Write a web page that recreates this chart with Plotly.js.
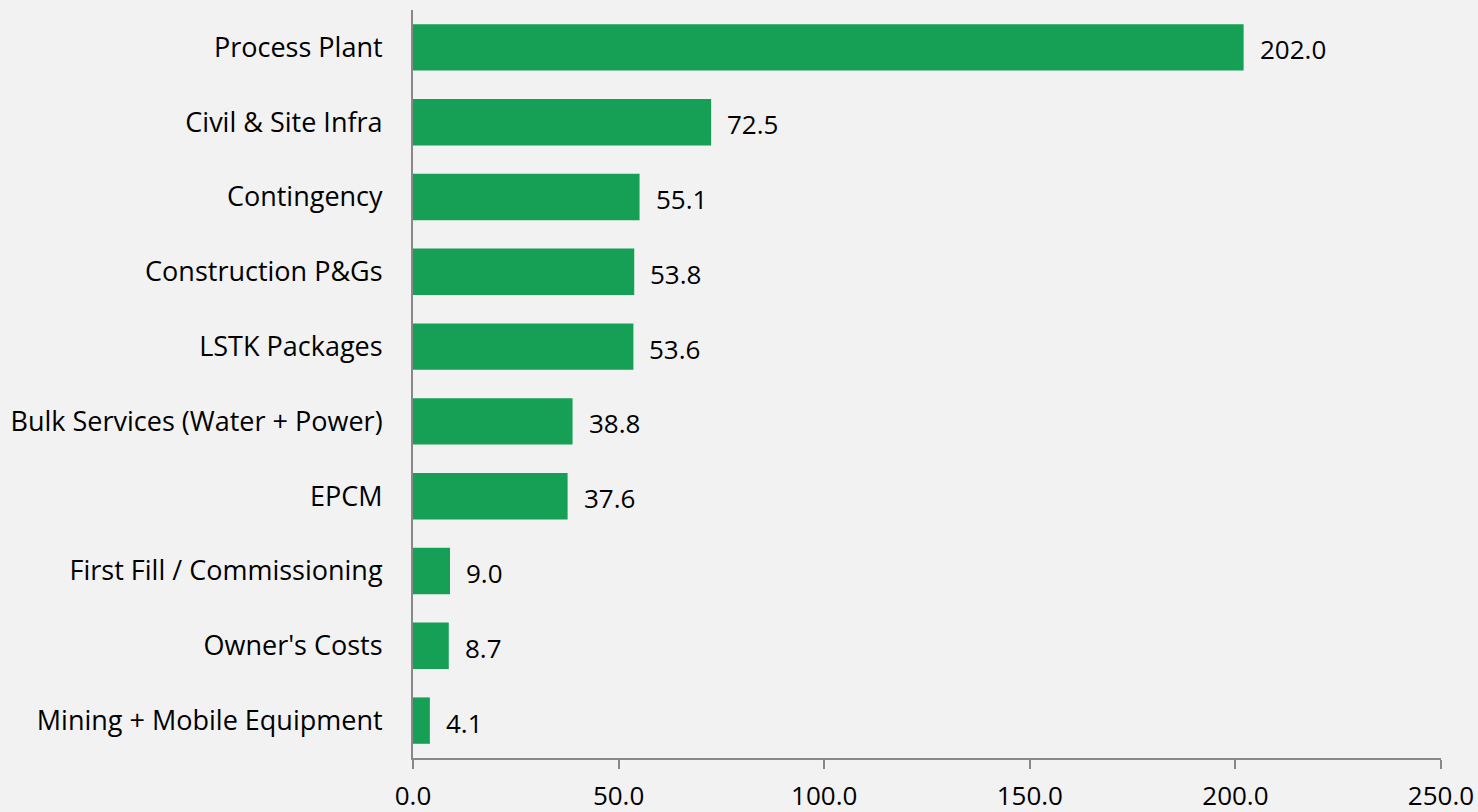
<!DOCTYPE html>
<html><head><meta charset="utf-8">
<script src="https://cdn.plot.ly/plotly-3.0.1.min.js"></script>
<style>html,body{margin:0;padding:0;background:#f2f2f2}</style>
</head><body><div id="chart" style="width:1478px;height:812px"></div>
<script>
const categories = ["Process Plant","Civil & Site Infra","Contingency","Construction P&Gs","LSTK Packages","Bulk Services (Water + Power)","EPCM","First Fill / Commissioning","Owner's Costs","Mining + Mobile Equipment"];
const values = [202.0,72.5,55.1,53.8,53.6,38.8,37.6,9.0,8.7,4.1];
const tickVals = [0,50,100,150,200,250];
const tickText = ["0.0","50.0","100.0","150.0","200.0","250.0"];

const font = {family:"Open Sans, Noto Sans, sans-serif", size:26, color:"#000"};
const trace = {type:"bar", orientation:"h", y:categories, x:values,
  marker:{color:"#16a055"}, width:0.62, hoverinfo:"x+y"};
const annotations = categories.map((c,i)=>({x:values[i], y:c, xref:"x", yref:"y",
  text:values[i].toFixed(1), showarrow:false, xanchor:"left", xshift:14, yshift:-2, font:font}));
Plotly.newPlot("chart",[trace],{
  width:1478,height:812,
  paper_bgcolor:"#f2f2f2",plot_bgcolor:"#f2f2f2",
  margin:{l:413,r:37,t:10,b:54},
  font:font, showlegend:false, annotations:annotations,
  xaxis:{range:[0,250],tickvals:tickVals,ticktext:tickText,showgrid:false,zeroline:false,
    showline:true,linecolor:"#888",linewidth:2,ticks:"outside",ticklen:9,tickwidth:2,tickcolor:"#888",ticklabelstandoff:5},
  yaxis:{autorange:"reversed",showgrid:false,zeroline:false,showline:true,linecolor:"#888",linewidth:2,
    ticks:"",ticklabelstandoff:23,tickfont:{family:"Open Sans, Noto Sans, sans-serif",size:27,color:"#000"}}
},{displayModeBar:false});
</script></body></html>
